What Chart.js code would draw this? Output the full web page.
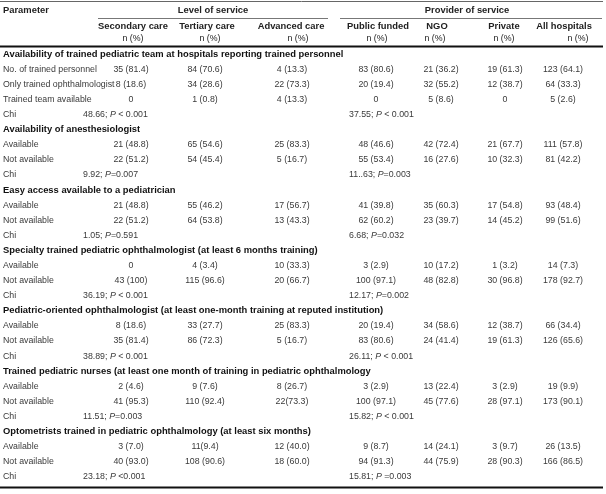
<!DOCTYPE html>
<html>
<head>
<meta charset="utf-8">
<script src="https://cdn.jsdelivr.net/npm/chart.js@4.4.1/dist/chart.umd.min.js"></script>
<style>
  html, body { margin: 0; padding: 0; background: #fff; }
  #wrap { width: 606px; height: 494px; }
</style>
</head>
<body>
<div id="wrap"><canvas id="tableChart" width="606" height="494"></canvas></div>
<script>
// rows of the table (section titles are bold)
const rowLabels = [
  "Availability of trained pediatric team at hospitals reporting trained personnel",
  "No. of trained personnel", "Only trained ophthalmologist", "Trained team available", "Chi",
  "Availability of anesthesiologist",
  "Available", "Not available", "Chi",
  "Easy access available to a pediatrician",
  "Available", "Not available", "Chi",
  "Specialty trained pediatric ophthalmologist (at least 6 months training)",
  "Available", "Not available", "Chi",
  "Pediatric-oriented ophthalmologist (at least one-month training at reputed institution)",
  "Available", "Not available", "Chi",
  "Trained pediatric nurses (at least one month of training in pediatric ophthalmology",
  "Available", "Not available", "Chi",
  "Optometrists trained in pediatric ophthalmology (at least six months)",
  "Available", "Not available", "Chi"
];
const sectionRows = [0, 5, 9, 13, 17, 21, 25];
const chiRows = [4, 8, 12, 16, 20, 24, 28];

const columnTitles = ["Secondary care", "Tertiary care", "Advanced care", "Public funded", "NGO", "Private", "All hospitals"];
const groupTitles = ["Level of service", "Provider of service"];

const secondaryCare = [null, "35 (81.4)", "8 (18.6)", "0", null, null, "21 (48.8)", "22 (51.2)", null, null, "21 (48.8)", "22 (51.2)", null, null, "0", "43 (100)", null, null, "8 (18.6)", "35 (81.4)", null, null, "2 (4.6)", "41 (95.3)", null, null, "3 (7.0)", "40 (93.0)", null];
const tertiaryCare = [null, "84 (70.6)", "34 (28.6)", "1 (0.8)", null, null, "65 (54.6)", "54 (45.4)", null, null, "55 (46.2)", "64 (53.8)", null, null, "4 (3.4)", "115 (96.6)", null, null, "33 (27.7)", "86 (72.3)", null, null, "9 (7.6)", "110 (92.4)", null, null, "11(9.4)", "108 (90.6)", null];
const advancedCare = [null, "4 (13.3)", "22 (73.3)", "4 (13.3)", null, null, "25 (83.3)", "5 (16.7)", null, null, "17 (56.7)", "13 (43.3)", null, null, "10 (33.3)", "20 (66.7)", null, null, "25 (83.3)", "5 (16.7)", null, null, "8 (26.7)", "22(73.3)", null, null, "12 (40.0)", "18 (60.0)", null];
const publicFunded = [null, "83 (80.6)", "20 (19.4)", "0", null, null, "48 (46.6)", "55 (53.4)", null, null, "41 (39.8)", "62 (60.2)", null, null, "3 (2.9)", "100 (97.1)", null, null, "20 (19.4)", "83 (80.6)", null, null, "3 (2.9)", "100 (97.1)", null, null, "9 (8.7)", "94 (91.3)", null];
const ngo = [null, "21 (36.2)", "32 (55.2)", "5 (8.6)", null, null, "42 (72.4)", "16 (27.6)", null, null, "35 (60.3)", "23 (39.7)", null, null, "10 (17.2)", "48 (82.8)", null, null, "34 (58.6)", "24 (41.4)", null, null, "13 (22.4)", "45 (77.6)", null, null, "14 (24.1)", "44 (75.9)", null];
const privateSector = [null, "19 (61.3)", "12 (38.7)", "0", null, null, "21 (67.7)", "10 (32.3)", null, null, "17 (54.8)", "14 (45.2)", null, null, "1 (3.2)", "30 (96.8)", null, null, "12 (38.7)", "19 (61.3)", null, null, "3 (2.9)", "28 (97.1)", null, null, "3 (9.7)", "28 (90.3)", null];
const allHospitals = [null, "123 (64.1)", "64 (33.3)", "5 (2.6)", null, null, "111 (57.8)", "81 (42.2)", null, null, "93 (48.4)", "99 (51.6)", null, null, "14 (7.3)", "178 (92.7)", null, null, "66 (34.4)", "126 (65.6)", null, null, "19 (9.9)", "173 (90.1)", null, null, "26 (13.5)", "166 (86.5)", null];

const levelChi = ["48.66; P < 0.001", "9.92; P=0.007", "1.05; P=0.591", "36.19; P < 0.001", "38.89; P < 0.001", "11.51; P=0.003", "23.18; P <0.001"];
const providerChi = ["37.55; P < 0.001", "11..63; P=0.003", "6.68; P=0.032", "12.17; P=0.002", "26.11; P < 0.001", "15.82; P < 0.001", "15.81; P =0.003"];

// layout (x anchors in the 0..606 x scale)
const FONT = "'Liberation Sans', Arial, sans-serif";
const BODY = 8.8;
const BOLD = 9.4;
const colCenters = [131, 205, 292, 376, 441, 505, 563];
const headCenters = [133, 207, 291, 378, 437, 504, 564];
const pctCenters = [133, 210, 298, 377, 435, 504, 578];
const groupSpans = [[98, 328], [340, 602]];
const chiX = [83, 349];
const tableRight = 603;

const valueColumns = [secondaryCare, tertiaryCare, advancedCare, publicFunded, ngo, privateSector, allHospitals];

function spread(arr) {
  const out = new Array(rowLabels.length).fill(null);
  chiRows.forEach((r, i) => { out[r] = arr[i]; });
  return out;
}

// one dataset per table column; each point is a cell (y = row index)
function cellDataset(kind, align, x, texts) {
  const data = [];
  texts.forEach((t, i) => { if (t != null) data.push({ x: x, y: i, text: t, row: i }); });
  return { kind: kind, align: align, data: data, pointRadius: 0, pointHoverRadius: 0 };
}

const datasets = [cellDataset("label", "left", 3, rowLabels)];
valueColumns.forEach((col, c) => datasets.push(cellDataset("value", "center", colCenters[c], col)));
datasets.push(cellDataset("chi", "left", chiX[0], spread(levelChi)));
datasets.push(cellDataset("chi", "left", chiX[1], spread(providerChi)));

function drawRich(ctx, text, x, y, size) {
  // italic "P" inside chi cells
  const parts = text.split("P");
  const segs = [];
  parts.forEach((p, i) => {
    if (i > 0) segs.push({ t: "P", f: "italic " + size + "px " + FONT });
    if (p) segs.push({ t: p, f: size + "px " + FONT });
  });
  let cx = x;
  ctx.textAlign = "left";
  segs.forEach(s => {
    ctx.font = s.f;
    ctx.fillText(s.t, cx, y);
    cx += ctx.measureText(s.t).width;
  });
}

function hLine(ctx, x0, x1, y, w, color) {
  ctx.beginPath();
  ctx.strokeStyle = color;
  ctx.lineWidth = w;
  ctx.moveTo(x0, y);
  ctx.lineTo(x1, y);
  ctx.stroke();
}

const tablePlugin = {
  id: "tablePlugin",
  afterDatasetsDraw(chart) {
    const ctx = chart.ctx;
    const xs = chart.scales.x;
    const top = chart.chartArea.top;
    const bottom = chart.chartArea.bottom;
    ctx.save();
    ctx.textBaseline = "middle";

    // header
    hLine(ctx, 0, tableRight, 1.5, 1, "#666");
    ctx.fillStyle = "#222";
    ctx.font = "bold " + BOLD + "px " + FONT;
    ctx.textAlign = "left";
    ctx.fillText("Parameter", xs.getPixelForValue(3), 10);
    groupTitles.forEach((g, i) => {
      const a = xs.getPixelForValue(groupSpans[i][0]);
      const b = xs.getPixelForValue(groupSpans[i][1]);
      ctx.textAlign = "center";
      ctx.fillText(g, (a + b) / 2 + (i === 1 ? -4 : 0), 10);
      hLine(ctx, a, b, 18.5, 1, "#777");
    });
    ctx.textAlign = "center";
    columnTitles.forEach((t, c) => {
      ctx.font = "bold " + BOLD + "px " + FONT;
      ctx.fillText(t, xs.getPixelForValue(headCenters[c]), top - 20);
      ctx.font = BODY + "px " + FONT;
      ctx.fillText("n (%)", xs.getPixelForValue(pctCenters[c]), top - 8);
    });
    hLine(ctx, 0, tableRight, top, 2, "#111");

    // body cells, placed by the scales
    chart.data.datasets.forEach((ds, di) => {
      const meta = chart.getDatasetMeta(di);
      meta.data.forEach((pt, j) => {
        const cell = ds.data[j];
        if (ds.kind === "label" && sectionRows.includes(cell.row)) {
          ctx.fillStyle = "#111";
          ctx.font = "bold " + BOLD + "px " + FONT;
          ctx.textAlign = "left";
          ctx.fillText(cell.text, pt.x, pt.y);
        } else if (ds.kind === "chi") {
          ctx.fillStyle = "#3a3a3a";
          drawRich(ctx, cell.text, pt.x, pt.y, BODY);
        } else {
          ctx.fillStyle = "#3a3a3a";
          ctx.font = BODY + "px " + FONT;
          ctx.textAlign = ds.align;
          ctx.fillText(cell.text, pt.x, pt.y);
        }
      });
    });
    hLine(ctx, 0, tableRight, bottom + 3, 2, "#111");
    ctx.restore();
  }
};

new Chart(document.getElementById("tableChart").getContext("2d"), {
  type: "scatter",
  data: { datasets: datasets },
  options: {
    responsive: false,
    animation: false,
    layout: { padding: { top: 46.5, left: 0, right: 0, bottom: 9.5 } },
    plugins: { legend: { display: false }, tooltip: { enabled: false } },
    scales: {
      x: { type: "linear", display: false, min: 0, max: 606 },
      y: { type: "linear", display: false, reverse: true, min: -0.5, max: rowLabels.length - 0.5 }
    }
  },
  plugins: [tablePlugin]
});
</script>
</body>
</html>
